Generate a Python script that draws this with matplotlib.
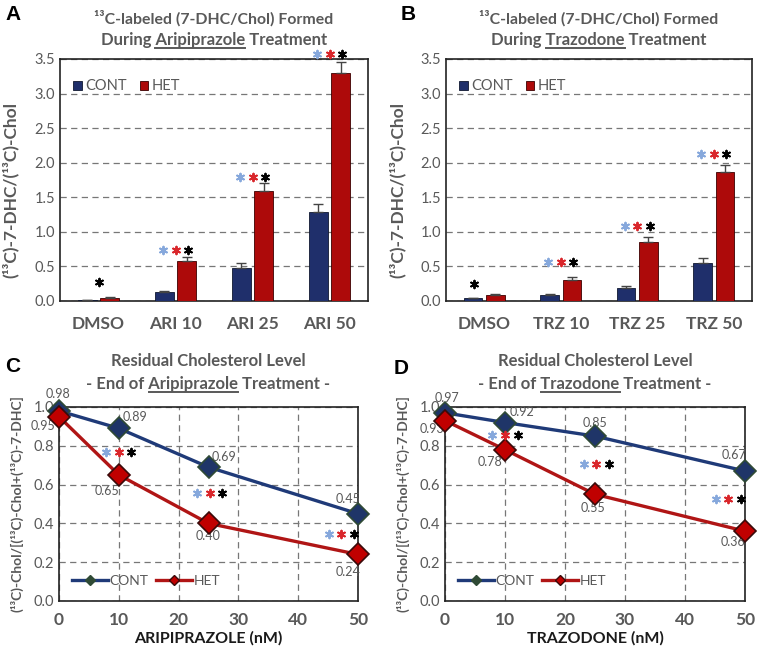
import numpy as np
import matplotlib.pyplot as plt
from matplotlib.lines import Line2D

plt.rcParams['font.family'] = ['Lato', 'DejaVu Sans']

# ---- data ----
cats_ari = ['DMSO', 'ARI 10', 'ARI 25', 'ARI 50']
cont_ari = [0.01, 0.126, 0.48, 1.29]
cont_ari_err = [0.004, 0.02, 0.07, 0.11]
het_ari = [0.05, 0.58, 1.59, 3.30]
het_ari_err = [0.01, 0.05, 0.11, 0.16]
sig_ari_y = [0.27, 0.74, 1.80, 3.57]

cats_trz = ['DMSO', 'TRZ 10', 'TRZ 25', 'TRZ 50']
cont_trz = [0.04, 0.087, 0.19, 0.55]
cont_trz_err = [0.005, 0.01, 0.03, 0.07]
het_trz = [0.08, 0.31, 0.86, 1.86]
het_trz_err = [0.02, 0.04, 0.06, 0.11]
sig_trz_y = [0.24, 0.56, 1.09, 2.13]

dose = [0, 10, 25, 50]
chol_cont_ari = [0.98, 0.89, 0.69, 0.45]
chol_het_ari = [0.95, 0.65, 0.40, 0.24]
chol_cont_trz = [0.97, 0.92, 0.85, 0.67]
chol_het_trz = [0.93, 0.78, 0.55, 0.36]
sig_line_x = [10, 25.2, 47.2]
sig_line_ari_y = [0.77, 0.556, 0.345]
sig_line_trz_y = [0.855, 0.708, 0.525]

NAVY = '#1f2f6b'
RED = '#ad0a0a'
GRAY = '#595959'
STAR_COLS = ['#86a8dc', '#d9262b', 'black']
STAR = (6, 2, 0)

W, H = 757, 653
fig = plt.figure(figsize=(W / 100, H / 100), dpi=100)


def px_axes(l, t, r, b):
    return fig.add_axes([l / W, (H - b) / H, (r - l) / W, (b - t) / H])


def frame(ax):
    for s in ax.spines.values():
        s.set_color('#222222')
        s.set_linewidth(1.2)
    ax.tick_params(length=0, colors=GRAY, labelsize=10.5)


def title2(ax, line1, pre, word, post, y1, y2, size1=12):
    # two line title, word in second line underlined
    xc = ax.get_position().x0 + ax.get_position().width / 2
    kw = dict(ha='center', va='baseline', fontsize=12, fontweight='bold', color=GRAY)
    fig.text(xc, y1, line1, **dict(kw, fontsize=size1))
    t = fig.text(xc, y2, pre + word + post, **kw)
    r = fig.canvas.get_renderer()
    full = t.get_window_extent(r)
    tmp = fig.text(0, 0, pre + word, **kw)
    w1 = tmp.get_window_extent(r).width
    tmp.set_text(word)
    w2 = tmp.get_window_extent(r).width
    tmp.remove()
    x1 = full.x0 + w1
    yb = y2 * H - 3
    fig.add_artist(Line2D([(x1 - w2) / W, x1 / W], [yb / H, yb / H],
                          color=GRAY, lw=1.4, transform=fig.transFigure))


def bar_panel(ax, cats, cont, cont_err, het, het_err, sig_y, dmso_dx):
    x = np.arange(len(cats))
    w = 0.24
    d = 0.145
    ax.bar(x - d, cont, w, color=NAVY, edgecolor='#101830', lw=0.6,
           yerr=[np.zeros(len(cont)), cont_err], capsize=3.5,
           error_kw=dict(ecolor='#444444', elinewidth=1, capthick=1), zorder=3, label='CONT')
    ax.bar(x + d, het, w, color=RED, edgecolor='#3a0000', lw=0.6,
           yerr=[np.zeros(len(het)), het_err], capsize=3.5,
           error_kw=dict(ecolor='#444444', elinewidth=1, capthick=1), zorder=3, label='HET')
    ax.set_xlim(-0.5, len(cats) - 0.5)
    ax.set_ylim(0, 3.5)
    ax.set_yticks(np.arange(0, 3.51, 0.5))
    ax.set_yticklabels(['%.1f' % v for v in np.arange(0, 3.51, 0.5)])
    ax.set_xticks(x)
    frame(ax)
    ax.set_xticklabels(cats, fontsize=12.5, fontweight='bold', color=GRAY)
    ax.tick_params(axis='x', pad=11)
    ax.yaxis.grid(True, ls=(0, (5, 3.5)), color='#777777', lw=0.9)
    # significance stars
    ax.scatter([x[0] + dmso_dx], [sig_y[0]], marker=STAR, s=30, lw=1.4,
               color='black', zorder=5, clip_on=False)
    for i in range(1, len(cats)):
        for j, c in enumerate(STAR_COLS):
            ax.scatter([x[i] + (j - 1) * 0.165], [sig_y[i]], marker=STAR, s=30, lw=1.4,
                       color=c, zorder=5, clip_on=False)
    ax.set_ylabel('(¹³C)-7-DHC/(¹³C)-Chol', fontsize=12.5, fontweight='bold', color=GRAY)
    ax.yaxis.set_label_coords(-0.133, 0.46)
    ax.legend(loc='upper left', bbox_to_anchor=(0.0, 0.97), ncol=2, frameon=False,
              handlelength=0.6, handleheight=0.6, handletextpad=0.2, columnspacing=0.9,
              fontsize=10.5, labelcolor=GRAY)


def line_panel(ax, xs, cont, het, sig_y, cont_off, het_off, xlabel):
    ax.plot(xs, cont, color='#1f3a78', lw=2.4, marker='D', ms=11,
            mfc='#1f3568', mec='#2f4a35', mew=1.2, zorder=4, clip_on=False, label='CONT')
    ax.plot(xs, het, color='#b01515', lw=2.4, marker='D', ms=11,
            mfc='#c00000', mec='#3a0a0a', mew=1.2, zorder=4, clip_on=False, label='HET')
    for xv, yv, off in zip(xs, cont, cont_off):
        ax.annotate('%.2f' % yv, (xv, yv), xytext=off, textcoords='offset pixels',
                    ha='center', va='center', fontsize=9, color=GRAY)
    for xv, yv, off in zip(xs, het, het_off):
        ax.annotate('%.2f' % yv, (xv, yv), xytext=off, textcoords='offset pixels',
                    ha='center', va='center', fontsize=9, color=GRAY)
    for xc, yv in zip(sig_line_x, sig_y):
        for j, c in enumerate(STAR_COLS):
            ax.scatter([xc + (j - 1) * 2.1], [yv], marker=STAR, s=30, lw=1.4,
                       color=c, zorder=5, clip_on=False)
    ax.set_xlim(0, 50)
    ax.set_ylim(0, 1.0)
    ax.set_xticks(range(0, 51, 10))
    ax.set_yticks(np.arange(0, 1.01, 0.2))
    ax.set_yticklabels(['%.1f' % v for v in np.arange(0, 1.01, 0.2)])
    frame(ax)
    ax.set_xticklabels([str(v) for v in range(0, 51, 10)], fontsize=12.5,
                       fontweight='bold', color=GRAY)
    ax.tick_params(axis='x', pad=8)
    ax.grid(True, ls=(0, (5, 3.5)), color='#777777', lw=0.9)
    ax.set_xlabel(xlabel, fontsize=11.5, fontweight='bold', color='#1a1a1a', labelpad=2)
    ax.set_ylabel('(¹³C)-Chol/[(¹³C)-Chol+(¹³C)-7-DHC]', fontsize=10,
                  fontweight='bold', color=GRAY, labelpad=7)
    ax.legend(handles=[Line2D([], [], color='#1f3a78', lw=2.4, marker='D', ms=5,
                              mfc='#2f4a35', mec='#2f4a35'),
                       Line2D([], [], color='#b01515', lw=2.4, marker='D', ms=5,
                              mfc='#c00000', mec='#3a0a0a')],
              labels=['CONT', 'HET'], loc='lower left', bbox_to_anchor=(0.0, 0.01),
              ncol=2, frameon=False, handlelength=2.6, handletextpad=0.1,
              columnspacing=0.6, fontsize=10, labelcolor=GRAY)


axA = px_axes(60, 59, 368, 301)
axB = px_axes(446, 59, 752, 301)
axC = px_axes(59, 407, 358, 601)
axD = px_axes(445, 407, 745, 601)

bar_panel(axA, cats_ari, cont_ari, cont_ari_err, het_ari, het_ari_err, sig_ari_y, 0.0)
bar_panel(axB, cats_trz, cont_trz, cont_trz_err, het_trz, het_trz_err, sig_trz_y, -0.14)

cont_off_c = [(-1, 17), (16, 11), (15, 10), (-10, 15)]
het_off_c = [(-16, -9), (-12, -16), (0, -13), (-10, -18)]
cont_off_d = [(2, 15), (17, 11), (0, 13), (-11, 16)]
het_off_d = [(-13, -8), (-15, -12), (-2, -14), (-12, -11)]
line_panel(axC, dose, chol_cont_ari, chol_het_ari, sig_line_ari_y,
           cont_off_c, het_off_c, 'ARIPIPRAZOLE (nM)')
line_panel(axD, dose, chol_cont_trz, chol_het_trz, sig_line_trz_y,
           cont_off_d, het_off_d, 'TRAZODONE (nM)')

title2(axA, '¹³C-labeled (7-DHC/Chol) Formed', 'During ', 'Aripiprazole', ' Treatment',
       1 - 24 / H, 1 - 45 / H, size1=11.4)
title2(axB, '¹³C-labeled (7-DHC/Chol) Formed', 'During ', 'Trazodone', ' Treatment',
       1 - 24 / H, 1 - 45 / H, size1=11.4)
title2(axC, 'Residual Cholesterol Level', '- End of ', 'Aripiprazole', ' Treatment -',
       1 - 366 / H, 1 - 389 / H)
title2(axD, 'Residual Cholesterol Level', '- End of ', 'Trazodone', ' Treatment -',
       1 - 366 / H, 1 - 389 / H)

for lab, xp, yp in [('A', 13, 15), ('B', 408, 15), ('C', 13, 367), ('D', 401, 368)]:
    fig.text(xp / W, 1 - yp / H, lab, family=['Liberation Sans', 'DejaVu Sans'],
             fontsize=15, fontweight='bold', ha='center', va='center')

fig.savefig('out.png', dpi=100)
